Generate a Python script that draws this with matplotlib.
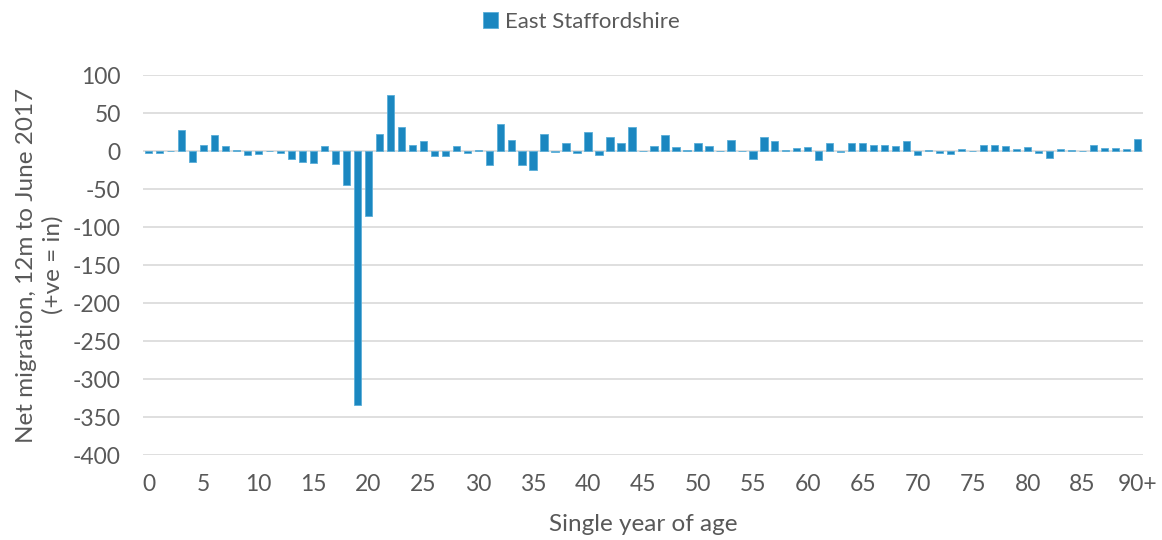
import matplotlib
matplotlib.use("Agg")
import matplotlib.pyplot as plt
import numpy as np

series_name = "East Staffordshire"
ages = [str(i) for i in range(90)] + ["90+"]
values = [
    -2, -3, 0, 27, -14, 8, 21, 7, 1, -5,
    -4, 0, -3, -11, -14, -16, 6, -17, -45, -334,
    -86, 22, 74, 32, 8, 13, -6, -6, 6, -3,
    1, -18, 35, 15, -18, -25, 22, -1, 11, -2,
    25, -5, 18, 11, 32, 0, 6, 21, 5, 1,
    11, 7, 0.5, 14, 0, -10, 18, 13, 1, 3.5,
    5, -12, 11, -1, 11, 11, 8, 8, 6, 13,
    -5, 1, -3, -4, 2.5, 0.5, 8, 8, 6, 3,
    5, -2, -9, 2.5, 1, -0.5, 8, 4, 4, 3,
    16,
]
yticks = [100, 50, 0, -50, -100, -150, -200, -250, -300, -350, -400]
xtick_every = 5
ylabel = "Net migration, 12m to June 2017\n(+ve = in)"
xlabel = "Single year of age"

plt.rcParams['font.family'] = ['Lato', 'DejaVu Sans']
txt = '#595959'
fig = plt.figure(figsize=(11.62, 5.40), dpi=100)
ax = fig.add_axes([143/1162, 1-455/540, 1000/1162, 380/540])

x = np.arange(len(values))
ax.bar(x, values, width=0.66, color='#1b87c0', edgecolor='#5aaed8', linewidth=0.6,
       label=series_name, zorder=3)
ax.set_xlim(-0.5, len(values)-0.5)
ax.set_ylim(-400, 100)
ax.set_yticks(yticks)
ax.set_yticklabels([str(v) for v in yticks])
tick_pos = list(range(0, 91, xtick_every))
ax.set_xticks(tick_pos)
ax.set_xticklabels([ages[i] for i in tick_pos])
ax.tick_params(axis='both', length=0, labelsize=16.5, labelcolor=txt)
ax.tick_params(axis='x', pad=14)
ax.tick_params(axis='y', pad=16)
ax.grid(axis='y', color='#d9d9d9', linewidth=1.2, zorder=0)
ax.set_axisbelow(True)
for s in ax.spines.values():
    s.set_visible(False)
ax.set_xlabel(xlabel, fontsize=17.5, color=txt)
ax.set_ylabel(ylabel, fontsize=17.5, color=txt, linespacing=1.3)
ax.xaxis.set_label_coords(0.5, (455-514)/380)
ax.yaxis.set_label_coords((64-143)/1000, 0.5)
leg = fig.legend(loc='center', bbox_to_anchor=(0.5, 1-22/540), frameon=False,
                 fontsize=16, handlelength=0.7, handleheight=0.7, handletextpad=0.3)
for t in leg.get_texts():
    t.set_color(txt)
fig.savefig('out.png', dpi=100)
